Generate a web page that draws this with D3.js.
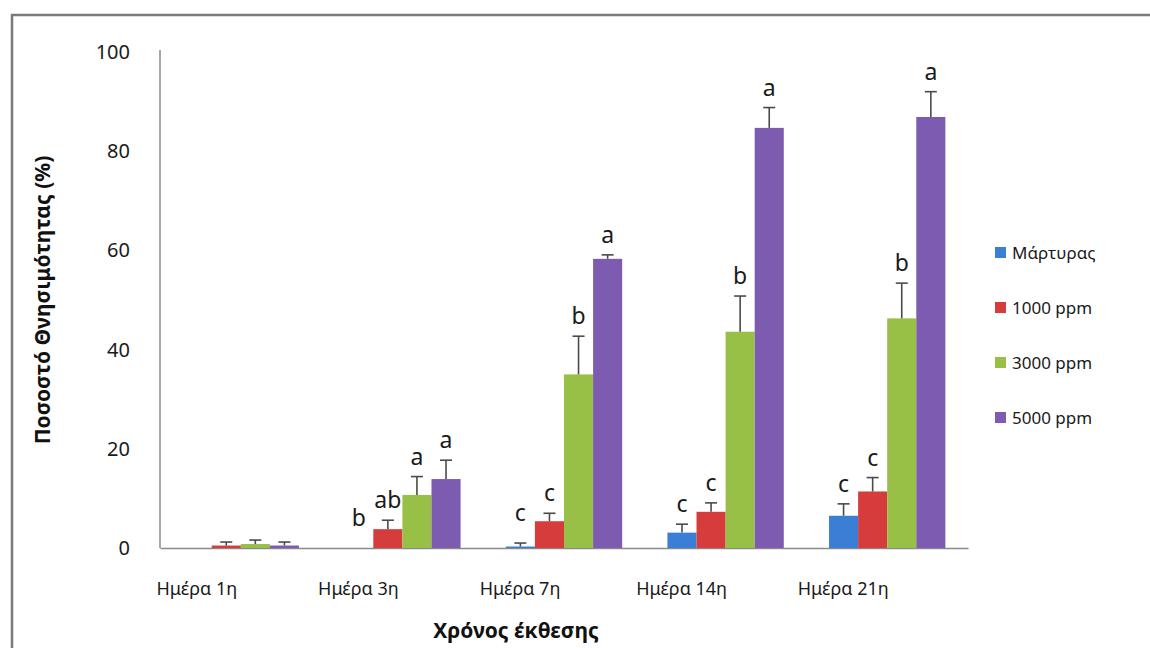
<!DOCTYPE html>
<html>
<head>
<meta charset="utf-8">
<script src="https://cdn.jsdelivr.net/npm/d3@7"></script>
<style>
  html, body { margin: 0; padding: 0; background: #fff; }
  svg { display: block; font-family: "Noto Sans", "DejaVu Sans", sans-serif; }
</style>
</head>
<body>
<svg id="chart" width="1150" height="648"></svg>
<script>
// Exposure days (x categories)
const days = ["Ημέρα 1η", "Ημέρα 3η", "Ημέρα 7η", "Ημέρα 14η", "Ημέρα 21η"];
// Treatments (legend series)
const series = ["Μάρτυρας", "1000 ppm", "3000 ppm", "5000 ppm"];
const colors = ["#3a7fd5", "#d63c3c", "#98c046", "#7d5bb0"];

// Mortality (%) per treatment, one value per day
const controlMean = [0, 0, 0.3, 3.1, 6.5];
const ppm1000Mean = [0.5, 3.8, 5.4, 7.3, 11.4];
const ppm3000Mean = [0.8, 10.7, 35.0, 43.6, 46.3];
const ppm5000Mean = [0.5, 13.9, 58.3, 84.7, 86.9];

// Standard errors (upper whisker)
const controlErr = [0, 0, 0.7, 1.7, 2.4];
const ppm1000Err = [0.7, 1.8, 1.6, 1.8, 2.8];
const ppm3000Err = [0.8, 3.7, 7.7, 7.2, 7.1];
const ppm5000Err = [0.7, 3.8, 0.8, 4.1, 5.1];

// Significance letters
const controlSig = ["", "b", "c", "c", "c"];
const ppm1000Sig = ["", "ab", "c", "c", "c"];
const ppm3000Sig = ["", "a", "b", "b", "b"];
const ppm5000Sig = ["", "a", "a", "a", "a"];

const yTicks = [0, 20, 40, 60, 80, 100];

const means = [controlMean, ppm1000Mean, ppm3000Mean, ppm5000Mean];
const errs = [controlErr, ppm1000Err, ppm3000Err, ppm5000Err];
const sigs = [controlSig, ppm1000Sig, ppm3000Sig, ppm5000Sig];

const rows = [];
days.forEach((d, i) => {
  series.forEach((s, j) => {
    rows.push({ day: d, series: s, idx: j, value: means[j][i], err: errs[j][i], sig: sigs[j][i] });
  });
});

const svg = d3.select("#chart");
const font = "Noto Sans, DejaVu Sans, sans-serif";

// outer frame
svg.append("path")
  .attr("d", "M12,648 V15 H1150")
  .attr("fill", "none")
  .attr("stroke", "#7a7a7a")
  .attr("stroke-width", 2.5);

const plot = { left: 160, right: 968, top: 52, bottom: 548 };

const x0 = d3.scaleBand().domain(days).range([plot.left, plot.right]).paddingInner(0.28).paddingOuter(0.14);
const x1 = d3.scaleBand().domain(series).range([0, x0.bandwidth()]).padding(0);
const y = d3.scaleLinear().domain([0, 100]).range([plot.bottom, plot.top]);

// y axis (line + labels, no tick marks)
const yAxis = svg.append("g")
  .attr("transform", `translate(${plot.left},0)`)
  .call(d3.axisLeft(y).tickValues(yTicks).tickSize(0).tickPadding(30));
yAxis.select(".domain").attr("stroke", "#8a8a8a").attr("stroke-width", 1.5)
  .attr("d", `M0,${plot.top - 2}V${plot.bottom}`);
yAxis.selectAll("text").attr("font-size", 20).attr("fill", "#1a1a1a").attr("font-family", font);

// x axis
const xAxis = svg.append("g")
  .attr("transform", `translate(0,${plot.bottom})`)
  .call(d3.axisBottom(x0).tickSize(0).tickPadding(34));
xAxis.select(".domain").attr("stroke", "#8a8a8a").attr("stroke-width", 1.5);
xAxis.selectAll("text")
  .attr("font-size", 18).attr("fill", "#1a1a1a")
  .attr("font-family", font)
  .attr("dx", -44);

// bars
const bars = svg.append("g");
bars.selectAll("rect").data(rows).join("rect")
  .attr("x", d => x0(d.day) + x1(d.series))
  .attr("y", d => y(d.value))
  .attr("width", x1.bandwidth())
  .attr("height", d => y(0) - y(d.value))
  .attr("fill", d => colors[d.idx]);

// upper error bars
const eb = svg.append("g").attr("stroke", "#4a4a4a").attr("stroke-width", 1.6);
rows.filter(d => d.err > 0).forEach(d => {
  const cx = x0(d.day) + x1(d.series) + x1.bandwidth() / 2;
  eb.append("line").attr("x1", cx).attr("x2", cx).attr("y1", y(d.value)).attr("y2", y(d.value + d.err));
  eb.append("line").attr("x1", cx - 6).attr("x2", cx + 6).attr("y1", y(d.value + d.err)).attr("y2", y(d.value + d.err));
});

// significance letters
svg.append("g").selectAll("text").data(rows.filter(d => d.sig)).join("text")
  .attr("x", d => x0(d.day) + x1(d.series) + x1.bandwidth() / 2)
  .attr("y", d => y(d.value + d.err) - (d.value + d.err < 2 ? 22 : 12))
  .attr("text-anchor", "middle")
  .attr("font-size", 23)
  .attr("fill", "#1a1a1a")
  .text(d => d.sig);

// axis titles
svg.append("text")
  .attr("transform", "translate(50,300) rotate(-90)")
  .attr("text-anchor", "middle")
  .attr("font-size", 21).attr("font-weight", "bold").attr("fill", "#111")
  .text("Ποσοστό Θνησιμότητας (%)");

svg.append("text")
  .attr("x", 516).attr("y", 638)
  .attr("text-anchor", "middle")
  .attr("font-size", 21).attr("font-weight", "bold").attr("fill", "#111")
  .text("Χρόνος έκθεσης");

// legend
const legend = svg.append("g").attr("transform", "translate(995,253)");
series.forEach((s, i) => {
  const g = legend.append("g").attr("transform", `translate(0,${i * 55})`);
  g.append("rect").attr("x", 0).attr("y", -6).attr("width", 11).attr("height", 11).attr("fill", colors[i]);
  g.append("text").attr("x", 17).attr("y", 6).attr("font-size", 17).attr("fill", "#1a1a1a").text(s);
});
</script>
</body>
</html>
